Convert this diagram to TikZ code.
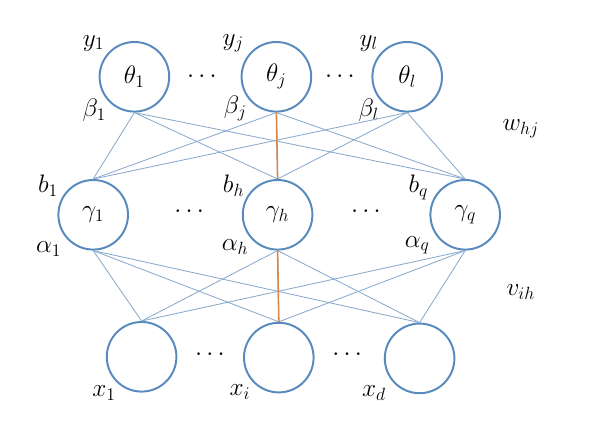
\RequirePackage{fix-cm}
\documentclass[tikz,border=0pt]{standalone}
\usepackage{amsmath}
\definecolor{unitblue}{RGB}{88,138,190}
\definecolor{linkblue}{RGB}{138,170,204}
\definecolor{linkorange}{RGB}{214,134,76}
\tikzset{
  unit/.style={circle, draw=unitblue, line width=1.4pt, minimum size=1.74cm, inner sep=0pt, font=\fontsize{18}{21}\selectfont},
  lbl/.style={inner sep=0pt, font=\fontsize{18}{21}\selectfont},
  link/.style={draw=linkblue, line width=0.6pt},
  hot/.style={draw=linkorange, line width=1.1pt}
}
\begin{document}
\begin{tikzpicture}
          \useasboundingbox (0,0) rectangle (14.95,10.6);
          % output layer
          \node[unit] (T1) at (3.36, 8.68) {$\theta_1$};
          \node[unit] (Tj) at (6.91, 8.68) {$\theta_j$};
          \node[unit] (Tl) at (10.18, 8.68) {$\theta_l$};
          % hidden layer
          \node[unit] (G1) at (2.33, 5.23) {$\gamma_1$};
          \node[unit] (Gh) at (6.94, 5.23) {$\gamma_h$};
          \node[unit] (Gq) at (11.63, 5.23) {$\gamma_q$};
          % input layer
          \node[unit] (X1) at (3.54, 1.68) {};
          \node[unit] (Xi) at (6.97, 1.66) {};
          \node[unit] (Xd) at (10.49, 1.64) {};
          % labels
          \node[lbl] (y1) at (2.34, 9.52) {$y_1$};
          \node[lbl] (yj) at (5.83, 9.52) {$y_j$};
          \node[lbl] (yl) at (9.22, 9.52) {$y_l$};
          \node[lbl] (be1) at (2.36, 7.85) {$\beta_1$};
          \node[lbl] (bej) at (5.88, 7.88) {$\beta_j$};
          \node[lbl] (bel) at (9.22, 7.85) {$\beta_l$};
          \node[lbl] (b1) at (1.2, 5.95) {$b_1$};
          \node[lbl] (bh) at (5.84, 5.96) {$b_h$};
          \node[lbl] (bq) at (10.46, 5.92) {$b_q$};
          \node[lbl] (a1) at (1.22, 4.38) {$\alpha_1$};
          \node[lbl] (ah) at (5.88, 4.43) {$\alpha_h$};
          \node[lbl] (aq) at (10.43, 4.47) {$\alpha_q$};
          \node[lbl] (x1) at (2.6, 0.78) {$x_1$};
          \node[lbl] (xi) at (6.0, 0.8) {$x_i$};
          \node[lbl] (xd) at (9.35, 0.78) {$x_d$};
          \node[lbl] (whj) at (13.02, 7.38) {$w_{hj}$};
          \node[lbl] (vih) at (13.02, 3.3) {$v_{ih}$};
          % dots
          \node[lbl] (dT1) at (5.1, 8.68) {$\cdots$};
          \node[lbl] (dT2) at (8.55, 8.68) {$\cdots$};
          \node[lbl] (dG1) at (4.78, 5.3) {$\cdots$};
          \node[lbl] (dG2) at (9.2, 5.3) {$\cdots$};
          \node[lbl] (dX1) at (5.3, 1.72) {$\cdots$};
          \node[lbl] (dX2) at (8.73, 1.74) {$\cdots$};
          % connections
          \foreach \t in {T1,Tj,Tl}
            \foreach \g in {G1,Gh,Gq}
              \draw[link] (\t.south) -- (\g.north);
          \foreach \g in {G1,Gh,Gq}
            \foreach \x in {X1,Xi,Xd}
              \draw[link] (\g.south) -- (\x.north);
          \draw[hot] (Tj.south) -- (Gh.north);
          \draw[hot] (Gh.south) -- (Xi.north);
          \end{tikzpicture}
\end{document}
